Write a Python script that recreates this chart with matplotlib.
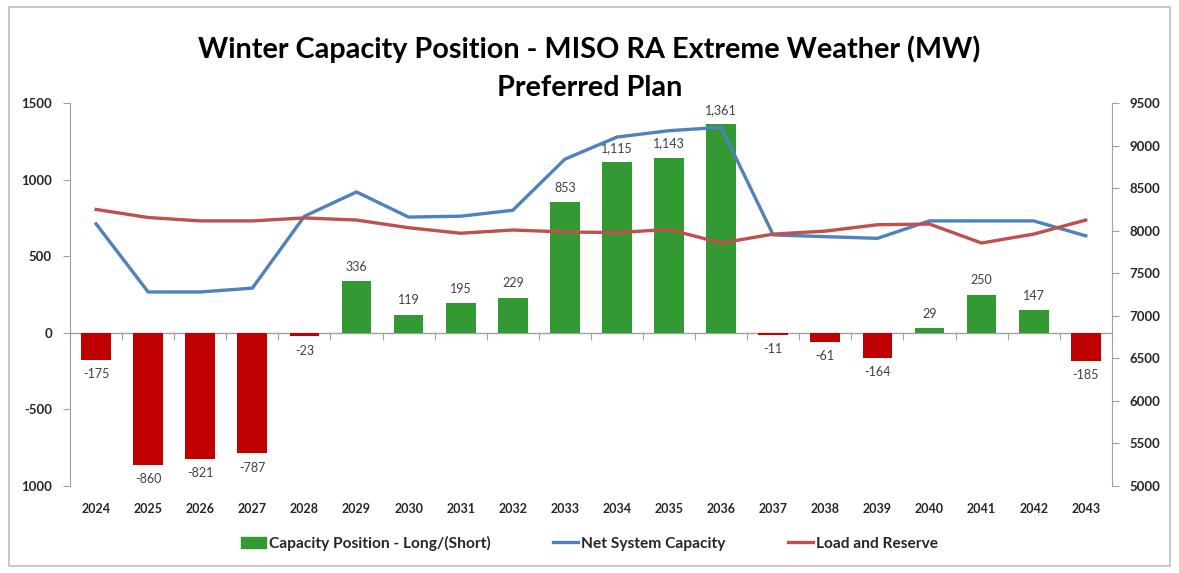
import matplotlib.pyplot as plt
import matplotlib.patches as mpatches
from matplotlib.lines import Line2D
import numpy as np

years = [str(y) for y in range(2024, 2044)]
capacity_position = [-175, -860, -821, -787, -23, 336, 119, 195, 229, 853,
                     1115, 1143, 1361, -11, -61, -164, 29, 250, 147, -185]
net_system_capacity = [8080, 7280, 7280, 7325, 8170, 8455, 8160, 8170, 8240, 8840,
                       9100, 9175, 9215, 7950, 7930, 7910, 8115, 8115, 8115, 7940]
load_and_reserve = [8250, 8155, 8115, 8115, 8150, 8125, 8035, 7970, 8008, 7985,
                    7978, 8015, 7855, 7960, 7995, 8070, 8078, 7855, 7960, 8125]

green = '#339933'
red_bar = '#C00000'
blue = '#4F81BD'
red_line = '#C0504D'
txt = '#262626'

plt.rcParams['font.family'] = ['Lato', 'DejaVu Sans']

fig = plt.figure(figsize=(11.79, 5.73), dpi=100)
ax1 = fig.add_axes([0.0594, 0.1518, 0.8836, 0.6684])

x = np.arange(len(years))
colors = [green if v >= 0 else red_bar for v in capacity_position]
bars = ax1.bar(x, capacity_position, width=0.57, color=colors, zorder=2)
ax1.bar_label(bars, labels=[f'{v:,}' for v in capacity_position], padding=6,
              fontsize=9, color='#404040')

ax1.set_xlim(-0.5, len(years) - 0.5)
ax1.set_ylim(-1000, 1500)
ax1.set_yticks([-1000, -500, 0, 500, 1000, 1500])
ax1.set_yticklabels(['1000', '-500', '0', '500', '1000', '1500'],
                    fontsize=9.5, fontweight='bold', color=txt)
ax1.set_xticks(x)
ax1.set_xticklabels(years, fontsize=9, fontweight='bold', color=txt)
ax1.tick_params(axis='x', length=0, pad=12)
ax1.tick_params(axis='y', color='#A0A0A0', length=5, pad=8)
for s in ['top', 'bottom', 'right']:
    ax1.spines[s].set_visible(False)
ax1.spines['left'].set_color('#A0A0A0')

# zero line with category tick marks
ax1.axhline(0, color='#A0A0A0', lw=1, zorder=1)
sec = ax1.secondary_xaxis(0.4)
sec.set_xticks(np.arange(-0.5, len(years), 1.0))
sec.set_xticklabels([])
sec.tick_params(axis='x', length=5, color='#A0A0A0', direction='out')
sec.spines['bottom'].set_visible(False)

ax2 = ax1.twinx()
ax2.plot(x, net_system_capacity, color=blue, lw=2.4, zorder=3)
ax2.plot(x, load_and_reserve, color=red_line, lw=2.4, zorder=3)
ax2.set_ylim(5000, 9500)
ax2.set_yticks(range(5000, 9501, 500))
ax2.set_yticklabels([str(v) for v in range(5000, 9501, 500)],
                    fontsize=9.5, fontweight='bold', color=txt)
ax2.tick_params(axis='y', color='#A0A0A0', length=5, pad=8)
for s in ['top', 'bottom', 'left']:
    ax2.spines[s].set_visible(False)
ax2.spines['right'].set_color('#A0A0A0')

fig.text(0.5, 0.915, 'Winter Capacity Position - MISO RA Extreme Weather (MW)',
         ha='center', va='center', fontsize=20.7, fontweight='bold', color='black')
fig.text(0.5, 0.847, 'Preferred Plan', ha='center', va='center',
         fontsize=20.7, fontweight='bold', color='black')

handles = [mpatches.Patch(color=green, label='Capacity Position - Long/(Short)'),
           Line2D([], [], color=blue, lw=2.4, label='Net System Capacity'),
           Line2D([], [], color=red_line, lw=2.4, label='Load and Reserve')]
leg = fig.legend(handles=handles, loc='center', bbox_to_anchor=(0.5, 0.052), ncol=3,
                 frameon=False, prop={'weight': 'bold', 'size': 11.2},
                 handlelength=1.6, handletextpad=0.2, columnspacing=4.0)
for t in leg.get_texts():
    t.set_color(txt)

# chart border
fig.patches.append(mpatches.Rectangle((0.008, 0.012), 0.984, 0.975, transform=fig.transFigure,
                                      fill=False, edgecolor='#BFBFBF', lw=1.2))

fig.savefig('out.png', dpi=100)
